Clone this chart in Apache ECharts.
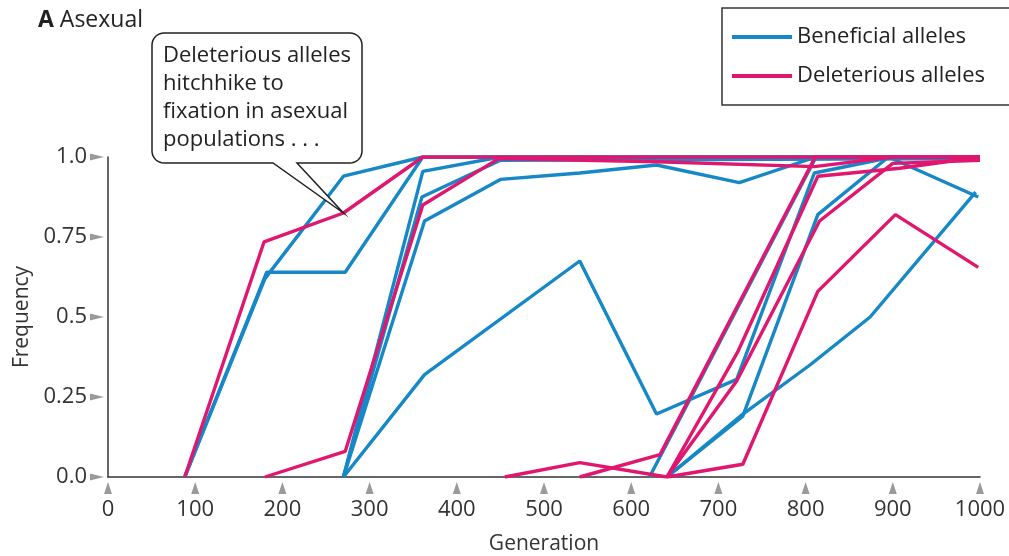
<!DOCTYPE html>
<html>
<head>
<meta charset="utf-8">
<script src="https://cdn.jsdelivr.net/npm/echarts@6/dist/echarts.min.js"></script>
<style>
    html,body{margin:0;padding:0;background:#fff}
    #chart{width:1009px;height:556px}
</style>
</head>
<body>
<div id="chart"></div>
<script>
// tick values / labels
var xTicks = [0, 100, 200, 300, 400, 500, 600, 700, 800, 900, 1000];
var yTicks = [0, 0.25, 0.5, 0.75, 1];
var yTickLabels = {'0': '0.0', '0.25': '0.25', '0.5': '0.5', '0.75': '0.75', '1': '1.0'};

// beneficial allele trajectories [generation, frequency]
var ben1 = [[88, 0], [182, 0.64], [272, 0.64], [361, 1.0], [1000, 1.0]];
var ben2 = [[88, 0], [180, 0.62], [270, 0.94], [361, 1.0], [1000, 1.0]];
var ben3 = [[270, 0], [361, 0.955], [450, 1.0], [1000, 1.0]];
var ben4 = [[270, 0], [360, 0.875], [450, 0.99], [1000, 0.995]];
var ben5 = [[270, 0], [363, 0.80], [450, 0.93], [541, 0.95], [629, 0.975], [724, 0.92], [812, 1.0], [1000, 1.0]];
var ben6 = [[270, 0], [363, 0.32], [541, 0.675], [629, 0.197], [721, 0.305], [810, 0.95], [900, 1.0], [1000, 1.0]];
var ben7 = [[621, 0], [812, 1.0], [1000, 1.0]];
var ben8 = [[641, 0], [728, 0.19], [814, 0.82], [895, 1.0], [998, 0.875]];
var ben9 = [[641, 0], [725, 0.19], [805, 0.35], [874, 0.50], [995, 0.89]];

// deleterious allele trajectories
var del1 = [[88, 0], [179, 0.735], [270, 0.825], [361, 1.0], [1000, 1.0]];
var del2 = [[180, 0], [272, 0.08], [361, 0.85], [448, 0.995], [630, 0.985], [810, 0.97], [900, 1.0], [1000, 1.0]];
var del3 = [[455, 0], [541, 0.045], [641, 0.0], [722, 0.39], [814, 0.94], [908, 0.965], [1000, 1.0]];
var del4 = [[541, 0], [633, 0.07], [811, 1.0], [1000, 1.0]];
var del5 = [[641, 0], [721, 0.30], [816, 0.80], [900, 0.98], [1000, 0.99]];
var del6 = [[641, 0], [728, 0.04], [814, 0.58], [903, 0.82], [998, 0.655]];

var beneficial = [ben1, ben2, ben3, ben4, ben5, ben6, ben7, ben8, ben9];
var deleterious = [del1, del2, del3, del4, del5, del6];

var BLUE = '#1687c7';
var PINK = '#e0166f';
var FONT = 'Open Sans';

var chart = echarts.init(document.getElementById('chart'));

var series = [];
beneficial.forEach(function (d) {
    series.push({name: 'Beneficial alleles', type: 'line', data: d, symbol: 'none',
        color: BLUE, lineStyle: {width: 3.4, color: BLUE}});
});
deleterious.forEach(function (d) {
    series.push({name: 'Deleterious alleles', type: 'line', data: d, symbol: 'none',
        color: PINK, lineStyle: {width: 3.4, color: PINK}});
});

var option = {
    backgroundColor: '#fff',
    animation: false,
    textStyle: {fontFamily: FONT},
    title: {
        text: '{b|A} Asexual',
        left: 33, top: 4,
        textStyle: {fontFamily: FONT, fontSize: 23, fontWeight: 'normal', color: '#222',
            rich: {b: {fontFamily: FONT, fontSize: 23, fontWeight: 'bold', color: '#222'}}}
    },
    legend: {
        orient: 'vertical',
        left: 722, top: 8,
        padding: [16, 34, 16, 10],
        itemGap: 13,
        itemWidth: 60, itemHeight: 4,
        icon: 'rect',
        borderColor: '#333', borderWidth: 1.5,
        textStyle: {fontFamily: FONT, fontSize: 22, color: '#222', lineHeight: 26},
        data: ['Beneficial alleles', 'Deleterious alleles']
    },
    grid: {left: 108, right: 29, top: 157, bottom: 79, outerBoundsMode: 'none', containLabel: false},
    xAxis: {
        type: 'value', min: 0, max: 1000, interval: 100,
        name: 'Generation', nameLocation: 'middle', nameGap: 57,
        nameTextStyle: {fontFamily: FONT, fontSize: 21, color: '#333'},
        axisLine: {lineStyle: {color: '#333', width: 1.5}},
        axisTick: {show: false},
        splitLine: {show: false},
        axisLabel: {margin: 22, fontFamily: FONT, fontSize: 22, color: '#333',
            formatter: function (v) { return String(v); }}
    },
    yAxis: {
        type: 'value', min: 0, max: 1, interval: 0.25,
        name: 'Frequency', nameLocation: 'middle', nameGap: 73,
        nameTextStyle: {fontFamily: FONT, fontSize: 21, color: '#333'},
        axisLine: {show: true, lineStyle: {color: '#333', width: 1.5}},
        axisTick: {show: false},
        splitLine: {show: false},
        axisLabel: {margin: 21, fontFamily: FONT, fontSize: 22, color: '#333',
            formatter: function (v) { return yTickLabels[String(v)]; }}
    },
    series: series
};
chart.setOption(option);

// tick triangles and callout, placed through the axes
var g = [];
xTicks.forEach(function (t) {
    var p = chart.convertToPixel({gridIndex: 0}, [t, 0]);
    g.push({type: 'polygon', shape: {points: [[p[0] - 4, p[1] + 17], [p[0] + 4, p[1] + 17], [p[0], p[1] + 5]]},
        style: {fill: '#9a9a9a'}, silent: true});
});
yTicks.forEach(function (t) {
    var p = chart.convertToPixel({gridIndex: 0}, [0, t]);
    g.push({type: 'polygon', shape: {points: [[p[0] - 18, p[1] - 3.5], [p[0] - 18, p[1] + 3.5], [p[0] - 4, p[1]]]},
        style: {fill: '#9a9a9a'}, silent: true});
});

// speech bubble: rounded box with a pointer onto the hitchhiking point
var tip = chart.convertToPixel({gridIndex: 0}, [270, 0.825]);
var bx0 = 152, by0 = 33, bx1 = 362, by1 = 163, r = 12;
function arc(cx, cy, a0, a1) {
    var pts = [];
    for (var i = 0; i <= 8; i++) {
        var a = (a0 + (a1 - a0) * i / 8) * Math.PI / 180;
        pts.push([cx + r * Math.cos(a), cy + r * Math.sin(a)]);
    }
    return pts;
}
var bubble = [].concat(
    arc(bx1 - r, by0 + r, -90, 0),
    arc(bx1 - r, by1 - r, 0, 90),
    [[297, by1], [tip[0], tip[1]], [273, by1]],
    arc(bx0 + r, by1 - r, 90, 180),
    arc(bx0 + r, by0 + r, 180, 270)
);
g.push({type: 'polygon', shape: {points: bubble}, style: {fill: '#fff', stroke: '#222', lineWidth: 1.5}, z: 100});
g.push({type: 'text', left: 163, top: 42, z: 101,
    style: {text: 'Deleterious alleles\nhitchhike to\nfixation in asexual\npopulations . . .',
        fontFamily: FONT, fontSize: 22, lineHeight: 28, fill: '#222'}});

chart.setOption({graphic: g});
</script>
</body>
</html>
